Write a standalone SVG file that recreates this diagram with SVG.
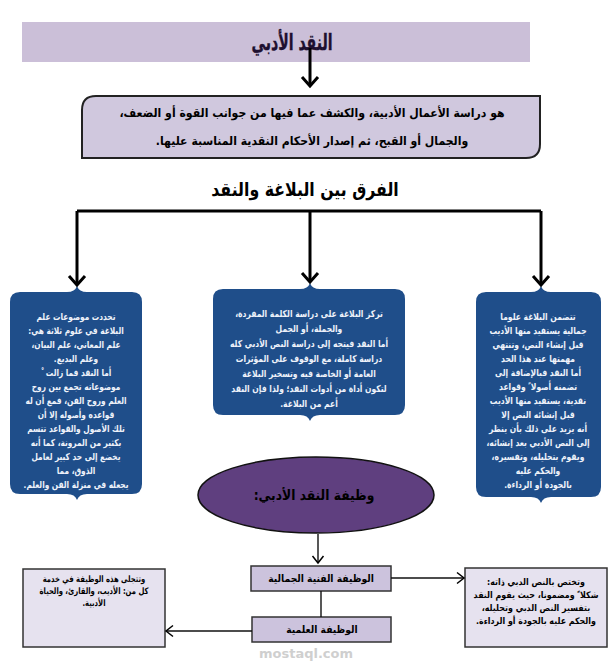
<svg xmlns="http://www.w3.org/2000/svg" width="615" height="672" viewBox="0 0 615 672">
<defs>
<marker id="chev" markerUnits="userSpaceOnUse" markerWidth="20" markerHeight="20" refX="10" refY="10" orient="auto">
<polyline points="1,2 10,10 1,18" fill="none" stroke="#000" stroke-width="3" stroke-linejoin="miter"/>
</marker>
<marker id="chevS" markerUnits="userSpaceOnUse" markerWidth="16" markerHeight="16" refX="8" refY="8" orient="auto">
<polyline points="1,2.5 8,8 1,13.5" fill="none" stroke="#000" stroke-width="1.5"/>
</marker>
<style>
text{font-family:"DejaVu Sans","Liberation Sans",sans-serif;direction:rtl;text-anchor:middle;font-weight:bold}
.blue{fill:#1F4E8A}
.bt{fill:#EEF2FA;font-size:9.5px}
.thick{stroke:#000;stroke-width:3;fill:none}
.thin{stroke:#111;stroke-width:1.4;fill:none}
.lav{fill:#CCC3DD;stroke:#333;stroke-width:1.5}
.light{fill:#E6E2EF;stroke:#333;stroke-width:1.5}
.st{font-size:9px;fill:#000}
</style>
</defs>

<g id="title">
<rect x="22" y="22" width="508" height="40" fill="#CBBFD8"/>
<g transform="matrix(0.64,0,0,1,105.12,0)">
<text x="292" y="50" font-size="22" fill="#1E1030" stroke="#1E1030" stroke-width="0.4" direction="rtl">&#x200F;النقد الأدبي&#x200F;</text>
</g>
</g>

<g id="definition">
<path d="M96,96 H540 V144 Q540,158 526,158 H82 V110 Q82,96 96,96 Z" fill="#D0C8DE" stroke="#222" stroke-width="2"/>
<g transform="matrix(0.91,0,0,1,28.08,0)">
<text x="312" y="117" font-size="12" fill="#000" direction="rtl">&#x200F;هو دراسة الأعمال الأدبية، والكشف عما فيها من جوانب القوة أو الضعف،&#x200F;</text>
<text x="312" y="145" font-size="12" fill="#000" direction="rtl">&#x200F;والجمال أو القبح، ثم إصدار الأحكام النقدية المناسبة عليها.&#x200F;</text>
</g>
</g>

<g id="heading">
<g transform="matrix(0.83,0,0,1,51.85,0)">
<text x="305" y="196" font-size="19" fill="#000" direction="rtl">&#x200F;الفرق بين البلاغة والنقد&#x200F;</text>
</g>
</g>

<g id="box-left">
<path class="blue" d="M20,292 H67 Q75,292 77,286 Q79,292 87,292 H132 Q142,292 142,302 V484 Q142,494 132,494 H87 Q79,494 77,500 Q75,494 67,494 H20 Q10,494 10,484 V302 Q10,292 20,292 Z"/>
<g transform="matrix(0.78,0,0,1,16.72,0)" direction="rtl">
<text class="bt" x="76" y="320">&#x200F;تحددت موضوعات علم&#x200F;</text>
<text class="bt" x="76" y="334">&#x200F;البلاغة في علوم ثلاثة هي:&#x200F;</text>
<text class="bt" x="76" y="348">&#x200F;علم المعاني، علم البيان،&#x200F;</text>
<text class="bt" x="76" y="362">&#x200F;وعلم البديع.&#x200F;</text>
<text class="bt" x="76" y="376">&#x200F;أما النقد فما زالت &#160;ْ&#x200F;</text>
<text class="bt" x="76" y="390">&#x200F;موضوعاته تجمع بين روح&#x200F;</text>
<text class="bt" x="76" y="404">&#x200F;العلم وروح الفن، فمع أن له&#x200F;</text>
<text class="bt" x="76" y="418">&#x200F;قواعده وأصوله إلا أن&#x200F;</text>
<text class="bt" x="76" y="432">&#x200F;تلك الأصول والقواعد تتسم&#x200F;</text>
<text class="bt" x="76" y="446">&#x200F;بكثير من المرونة، كما أنه&#x200F;</text>
<text class="bt" x="76" y="460">&#x200F;يخضع إلى حد كبير لعامل&#x200F;</text>
<text class="bt" x="76" y="474">&#x200F;الذوق، مما&#x200F;</text>
<text class="bt" x="76" y="488">&#x200F;يجعله في منزلة الفن والعلم.&#x200F;</text>
</g>
</g>

<g id="box-middle">
<path class="blue" d="M223,289 H300 Q308,289 310,283 Q312,289 320,289 H395 Q405,289 405,299 V405 Q405,415 395,415 H320 Q312,415 310,421 Q308,415 300,415 H223 Q213,415 213,405 V299 Q213,289 223,289 Z"/>
<g transform="matrix(0.8,0,0,1,61.8,0)" direction="rtl">
<text class="bt" x="309" y="317">&#x200F;تركز البلاغة على دراسة الكلمة المفردة،&#x200F;</text>
<text class="bt" x="309" y="332">&#x200F;والجملة، أو الجمل&#x200F;</text>
<text class="bt" x="309" y="347">&#x200F;أما النقد فيتجه إلى دراسة النص الأدبي كله&#x200F;</text>
<text class="bt" x="309" y="362">&#x200F;دراسة كاملة، مع الوقوف على المؤثرات&#x200F;</text>
<text class="bt" x="309" y="377">&#x200F;العامة أو الخاصة فيه وتسخير البلاغة&#x200F;</text>
<text class="bt" x="309" y="392">&#x200F;لتكون أداة من أدوات النقد؛ ولذا فإن النقد&#x200F;</text>
<text class="bt" x="309" y="407">&#x200F;أعم من البلاغة.&#x200F;</text>
</g>
</g>

<g id="box-right">
<path class="blue" d="M486,292 H531 Q539,292 541,286 Q543,292 551,292 H591 Q601,292 601,302 V487 Q601,497 591,497 H551 Q543,497 541,503 Q539,497 531,497 H486 Q476,497 476,487 V302 Q476,292 486,292 Z"/>
<g transform="matrix(0.8,0,0,1,107.6,0)" direction="rtl">
<text class="bt" x="538" y="320">&#x200F;تتضمن البلاغة علوما&#x200F;</text>
<text class="bt" x="538" y="334">&#x200F;جمالية يستفيد منها الأديب&#x200F;</text>
<text class="bt" x="538" y="348">&#x200F;قبل إنشاء النص، وتنتهي&#x200F;</text>
<text class="bt" x="538" y="362">&#x200F;مهمتها عند هذا الحد&#x200F;</text>
<text class="bt" x="538" y="376">&#x200F;أما النقد فبالإضافة إلى&#x200F;</text>
<text class="bt" x="538" y="390">&#x200F;تضمنه أصولا ً وقواعد&#x200F;</text>
<text class="bt" x="538" y="404">&#x200F;نقدية، يستفيد منها الأديب&#x200F;</text>
<text class="bt" x="538" y="418">&#x200F;قبل إنشائه النص إلا&#x200F;</text>
<text class="bt" x="538" y="432">&#x200F;أنه يزيد على ذلك بأن ينظر&#x200F;</text>
<text class="bt" x="538" y="446">&#x200F;إلى النص الأدبي بعد إنشائه،&#x200F;</text>
<text class="bt" x="538" y="460">&#x200F;ويقوم بتحليله، وتفسيره،&#x200F;</text>
<text class="bt" x="538" y="474">&#x200F;والحكم عليه&#x200F;</text>
<text class="bt" x="538" y="488">&#x200F;بالجودة أو الرداءة.&#x200F;</text>
</g>
</g>

<g id="function">
<ellipse cx="316" cy="495" rx="118" ry="38" fill="#5F3F7F" stroke="#111" stroke-width="1.5"/>
<g transform="matrix(0.88,0,0,1,37.68,0)">
<text x="314" y="500" font-size="14" fill="#000" direction="rtl">&#x200F;وظيفة النقد الأدبي:&#x200F;</text>
</g>
</g>

<g id="aesthetic">
<rect class="lav" x="251" y="566" width="140" height="25"/>
<g transform="matrix(0.88,0,0,1,38.52,0)">
<text x="321" y="582" font-size="10.5" fill="#000" direction="rtl">&#x200F;الوظيفة الفنية الجمالية&#x200F;</text>
</g>
</g>

<g id="scientific">
<rect class="lav" x="252" y="617" width="139" height="25"/>
<g transform="matrix(0.88,0,0,1,38.64,0)">
<text x="322" y="633" font-size="10.5" fill="#000" direction="rtl">&#x200F;الوظيفة العلمية&#x200F;</text>
</g>
</g>

<g id="left-note">
<rect class="light" x="23" y="569" width="142" height="78"/>
<g transform="matrix(0.76,0,0,1,22.56,0)" direction="rtl">
<text class="st" x="94" y="582">&#x200F;وتتجلى هذه الوظيفة في خدمة&#x200F;</text>
<text class="st" x="94" y="594">&#x200F;كل من: الأديب، والقارئ، والحياة&#x200F;</text>
<text class="st" x="94" y="606">&#x200F;الأدبية.&#x200F;</text>
</g>
</g>

<g id="right-note">
<rect class="light" x="465" y="568" width="142" height="79"/>
<g transform="matrix(0.88,0,0,1,64.32,0)" direction="rtl">
<text class="st" x="536" y="585">&#x200F;وتختص بالنص الدبي ذاته:&#x200F;</text>
<text class="st" x="536" y="598">&#x200F;شكلا ً ومضمونا، حيث يقوم النقد&#x200F;</text>
<text class="st" x="536" y="611">&#x200F;بتفسير النص الدبي وتحليله،&#x200F;</text>
<text class="st" x="536" y="624">&#x200F;والحكم عليه بالجودة أو الرداءة.&#x200F;</text>
</g>
</g>

<g id="watermark">
<text x="306" y="658" font-size="13" fill="#CFCFCF" font-weight="normal" style="direction:ltr">mostaql.com</text>
</g>

<g id="connectors">
<path class="thick" d="M310,48 V86" marker-end="url(#chev)"/>
<path class="thick" d="M77,211 H541"/>
<path class="thick" d="M77,211 V285" marker-end="url(#chev)"/>
<path class="thick" d="M310,211 V282" marker-end="url(#chev)"/>
<path class="thick" d="M541,211 V285" marker-end="url(#chev)"/>
<path class="thin" d="M318,534 V563" marker-end="url(#chevS)"/>
<path class="thin" d="M321,591 V617"/>
<path class="thin" d="M391,578 H464" marker-end="url(#chevS)"/>
<path class="thin" d="M252,631 H166" marker-end="url(#chevS)"/>
</g>
</svg>
